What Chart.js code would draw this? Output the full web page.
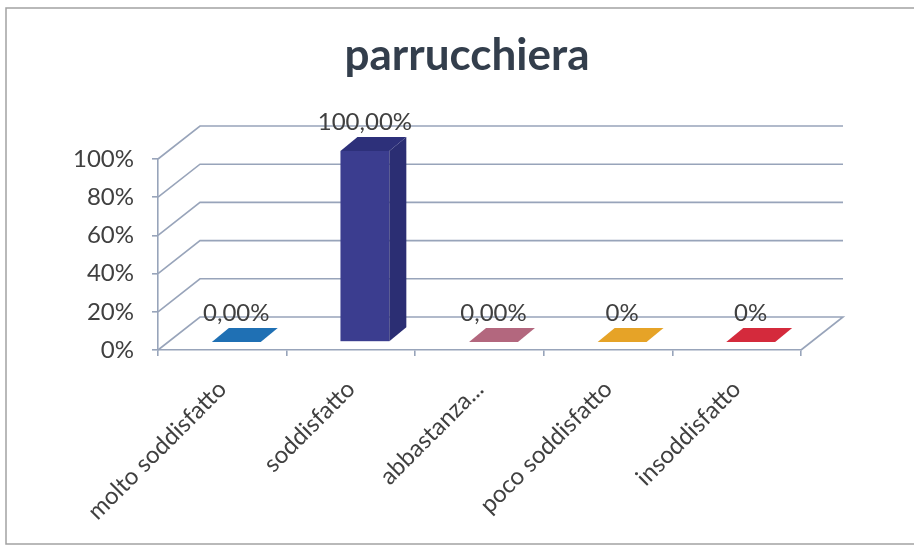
<!DOCTYPE html>
<html>
<head>
<meta charset="utf-8">
<title>parrucchiera</title>
<script src="https://cdn.jsdelivr.net/npm/chart.js@4.4.1/dist/chart.umd.min.js"></script>
<style>
  html, body { margin: 0; padding: 0; background: #fff; overflow: hidden; }
  #chart { display: block; }
</style>
</head>
<body>
<canvas id="chart" width="914" height="547"></canvas>
<script>
// Survey answers for the "parrucchiera" question
const categories = ['molto soddisfatto', 'soddisfatto', 'abbastanza...', 'poco soddisfatto', 'insoddisfatto']
const percentages = [0, 100, 0, 0, 0]
// how many decimals each value label shows
const labelDecimals = [2, 2, 2, 0, 0]
const yTicks = [0, 20, 40, 60, 80, 100]

const barColors = ['#1f70b4', '#3b3d8f', '#b3677e', '#e6a327', '#d42a3c']
const barSideColors = ['#185a92', '#2b2e73', '#8f5064', '#bb841f', '#aa2130']
const barTopColors = ['#1f70b4', '#2d307a', '#b3677e', '#e6a327', '#d42a3c']

const gridColor = '#98a4ba'
const textColor = '#404040'
const labelFont = { family: 'Lato', size: 24 }

// oblique offsets for the fake 3D look
const WALL = { dx: 42, dy: -33 }   // back wall relative to the front plane
const FRONT = { dx: 14, dy: -8 }   // bar front face relative to the front plane
const DEPTH = { dx: 17, dy: -14 }  // bar depth

function formatPct(value, decimals) {
  return value.toFixed(decimals).replace('.', ',') + '%'
}

function polygon(ctx, pts, color) {
  ctx.beginPath()
  ctx.moveTo(pts[0][0], pts[0][1])
  for (let i = 1; i < pts.length; i++) ctx.lineTo(pts[i][0], pts[i][1])
  ctx.closePath()
  ctx.fillStyle = color
  ctx.fill()
}

// white page with the grey chart frame; only top, left and bottom edges fall on the page
const framePlugin = {
  id: 'frame',
  beforeDraw(chart) {
    const ctx = chart.ctx
    ctx.save()
    ctx.fillStyle = '#fff'
    ctx.fillRect(0, 0, chart.width, chart.height)
    ctx.strokeStyle = '#a2a2a2'
    ctx.lineWidth = 1.5
    ctx.beginPath()
    ctx.moveTo(chart.width, 8)
    ctx.lineTo(6, 8)
    ctx.lineTo(6, chart.height - 3)
    ctx.lineTo(chart.width, chart.height - 3)
    ctx.stroke()
    ctx.restore()
  }
}

// back wall gridlines and floor outline
const wallPlugin = {
  id: 'wall',
  beforeDatasetsDraw(chart) {
    const { ctx, chartArea: area, scales: { y } } = chart
    ctx.save()
    ctx.strokeStyle = gridColor
    ctx.lineWidth = 1.6
    y.ticks.forEach(t => {
      const py = y.getPixelForValue(t.value)
      ctx.beginPath()
      ctx.moveTo(area.left, py)
      ctx.lineTo(area.left + WALL.dx, py + WALL.dy)
      ctx.lineTo(area.right + WALL.dx, py + WALL.dy)
      if (t.value === 0) ctx.lineTo(area.right, py)
      ctx.stroke()
    })
    ctx.restore()
  }
}

// 3D columns and their value labels
const columnsPlugin = {
  id: 'columns',
  beforeDatasetDraw() {
    return false
  },
  afterDatasetsDraw(chart) {
    const ctx = chart.ctx
    const meta = chart.getDatasetMeta(0)
    ctx.save()
    meta.data.forEach((bar, i) => {
      const { x, y, base, width } = bar.getProps(['x', 'y', 'base', 'width'], true)
      const l = x - width / 2 + FRONT.dx
      const r = x + width / 2 + FRONT.dx
      const t = y + FRONT.dy
      const b = base + FRONT.dy
      if (b - t > 0.5) {
        ctx.fillStyle = barColors[i]
        ctx.fillRect(l, t, r - l, b - t)
        polygon(ctx, [[r, t], [r + DEPTH.dx, t + DEPTH.dy], [r + DEPTH.dx, b + DEPTH.dy], [r, b]], barSideColors[i])
      }
      polygon(ctx, [[l, t], [r, t], [r + DEPTH.dx, t + DEPTH.dy], [l + DEPTH.dx, t + DEPTH.dy]], barTopColors[i])

      ctx.fillStyle = textColor
      ctx.font = labelFont.size + 'px ' + labelFont.family
      ctx.textAlign = 'center'
      ctx.textBaseline = 'alphabetic'
      ctx.fillText(formatPct(percentages[i], labelDecimals[i]), (l + r) / 2, t - 21)
    })
    ctx.restore()
  }
}

new Chart(document.getElementById('chart'), {
  type: 'bar',
  data: {
    labels: categories,
    datasets: [{
      data: percentages,
      backgroundColor: barColors,
      categoryPercentage: 1,
      barPercentage: 0.38
    }]
  },
  options: {
    responsive: false,
    animation: false,
    layout: {
      padding: { left: 20, right: 0, top: 0, bottom: 0 }
    },
    plugins: {
      legend: { display: false },
      tooltip: { enabled: false },
      title: {
        display: true,
        text: 'parrucchiera',
        color: '#333e4c',
        font: { family: 'Lato', size: 44, weight: 'bold', lineHeight: 1.2 },
        padding: { top: 29, bottom: 77.2 }
      }
    },
    scales: {
      x: {
        grid: {
          offset: true,
          drawOnChartArea: false,
          drawTicks: true,
          tickLength: 6,
          color: gridColor,
          lineWidth: 1.6
        },
        border: { display: true, color: gridColor, width: 1.6 },
        ticks: {
          color: textColor,
          font: labelFont,
          minRotation: 45,
          maxRotation: 45,
          autoSkip: false,
          padding: 19
        },
        afterFit(scale) {
          scale.height = 197
        }
      },
      y: {
        min: 0,
        max: 100,
        afterBuildTicks(scale) {
          scale.ticks = yTicks.map(v => ({ value: v }))
        },
        grid: {
          drawOnChartArea: false,
          drawTicks: true,
          tickLength: 6,
          color: gridColor,
          lineWidth: 1.6
        },
        border: { display: true, color: gridColor, width: 1.6 },
        ticks: {
          color: textColor,
          font: labelFont,
          padding: 18,
          callback: v => v + '%'
        },
        afterFit(scale) {
          scale.width = 138
        }
      },
      // empty axis that keeps room on the right for the back wall
      spacer: {
        type: 'linear',
        position: 'right',
        display: true,
        grid: { display: false },
        border: { display: false },
        ticks: { display: false },
        afterFit(scale) {
          scale.width = 113
        }
      }
    }
  },
  plugins: [framePlugin, wallPlugin, columnsPlugin]
})
</script>
</body>
</html>
